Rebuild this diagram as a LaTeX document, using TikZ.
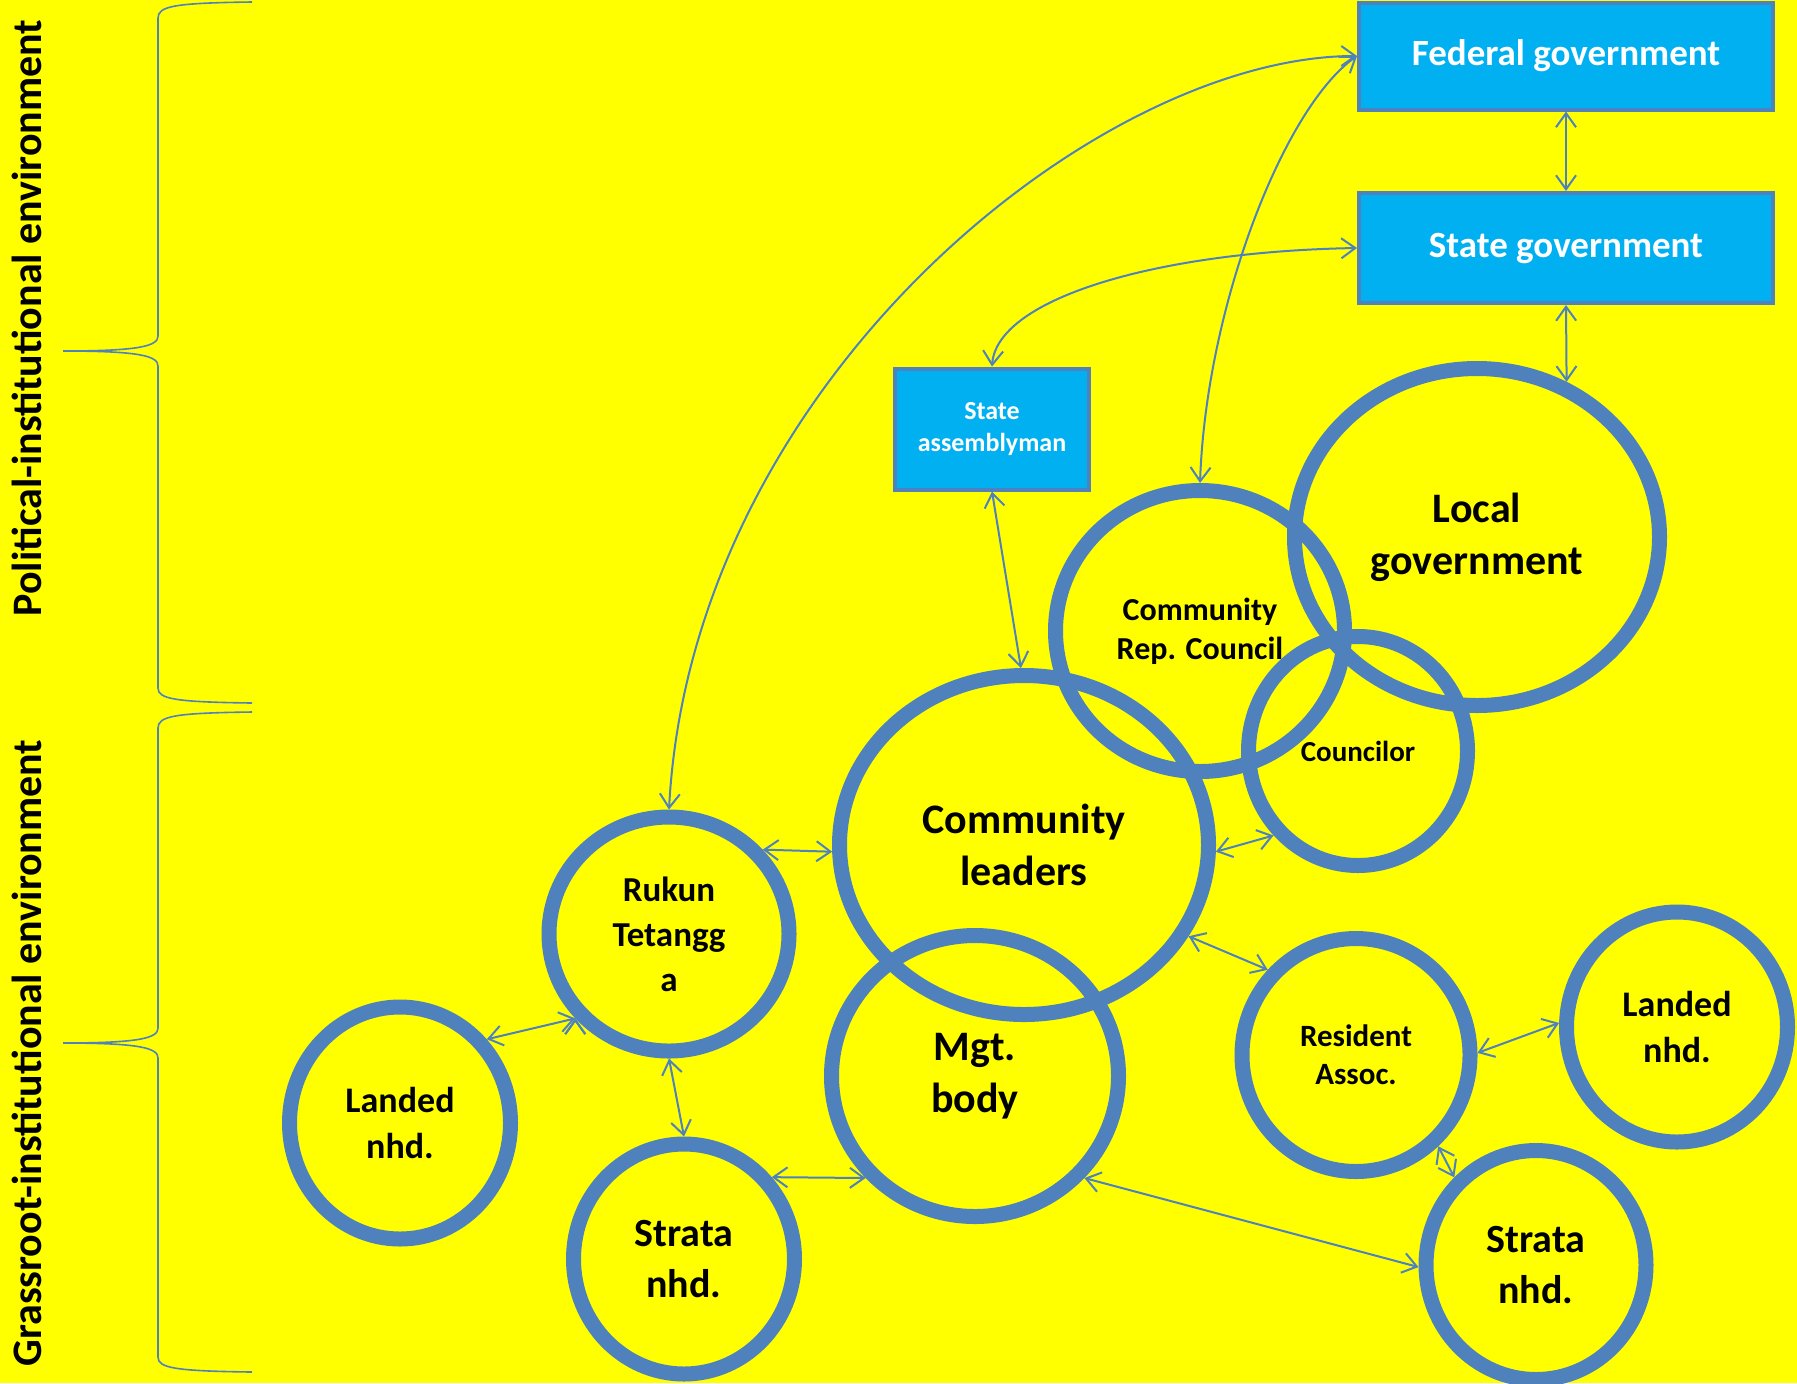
\documentclass[tikz,border=0pt]{standalone}
\usepackage{fontspec}
\setmainfont{Carlito}
\usetikzlibrary{shapes.geometric, arrows.meta}
\definecolor{ringblue}{HTML}{4F81BD}
\definecolor{govblue}{HTML}{00B0F0}
\definecolor{bgyellow}{HTML}{FFFF00}
\newcommand{\sz}[2]{\fontsize{#1}{#2}\selectfont\bfseries}

\begin{document}
\begin{tikzpicture}[x=0.5pt, y=-0.5pt]
        \tikzstyle{ring} = [draw=ringblue, line width=7.5pt, ellipse, inner sep=0pt, align=center, text=black]
        \tikzstyle{govbox} = [draw=ringblue, line width=2pt, fill=govblue, rectangle, inner sep=0pt, align=center, text=white]
        \tikzstyle{pointer} = [{Straight Barb[length=7pt, width=10pt]}-{Straight Barb[length=7pt, width=10pt]}, draw=ringblue, line width=1pt]
        \tikzstyle{brace} = [draw=ringblue, line width=0.8pt]
        \useasboundingbox (0,0) rectangle (1797,1383);
        \fill[bgyellow] (0,0) rectangle (1797,1383);
        % side labels and braces
        \node[rotate=90, inner sep=0pt, font=\sz{21}{25}] (politlabel) at (27,318) {Political-institutional environment};
        \node[rotate=90, inner sep=0pt, font=\sz{21}{25}] (grasslabel) at (27,1053) {Grassroot-institutional environment};
        \draw[brace] (252,2) .. controls (175,3) and (158,6) .. (158,18) -- (158,336)
            .. controls (158,346) and (140,351) .. (63,351) .. controls (140,351) and (158,356) .. (158,366)
            -- (158,688) .. controls (158,699) and (175,702) .. (252,703);
        \draw[brace] (252,712) .. controls (175,713) and (158,716) .. (158,728) -- (158,1028)
            .. controls (158,1038) and (140,1043) .. (63,1043) .. controls (140,1043) and (158,1048) .. (158,1058)
            -- (158,1357) .. controls (158,1368) and (175,1371) .. (252,1372);
        % government boxes
        \node[govbox, minimum width=207pt, minimum height=53.5pt, font=\sz{18.5}{22}] (fed) at (1566,56) {Federal government};
        \node[govbox, minimum width=207pt, minimum height=55pt, font=\sz{18.5}{22}] (stategov) at (1566,248) {State government};
        \node[govbox, minimum width=97pt, minimum height=60.5pt, font=\sz{13}{16}] (assembly) at (992,429) {State\\assemblyman};
        % circles
        \node[ring, minimum width=182.5pt, minimum height=168.5pt, font=\sz{21}{26}] (localgov) at (1477,537) {Local\\government};
        \node[ring, minimum width=109.5pt, minimum height=114.5pt, font=\sz{14.5}{17.5}] (councilor) at (1358,751) {Councilor};
        \node[ring, minimum width=144.5pt, minimum height=140.5pt, font=\sz{16}{19.5}] (crc) at (1200,631) {Community\\Rep. Council};
        \node[ring, minimum width=184.5pt, minimum height=169.5pt, font=\sz{21}{26}] (cl) at (1024,845) {Community\\leaders};
        \node[ring, minimum width=143.5pt, minimum height=140.5pt, font=\sz{21}{26}] (mgt) at (975,1076) {Mgt.\\body};
        \node[ring, minimum width=120pt, minimum height=117pt, font=\sz{17.5}{22.5}] (rukun) at (669,934) {Rukun\\Tetangg\\a};
        \node[ring, minimum width=110.5pt, minimum height=116pt, font=\sz{18}{23}] (landedL) at (400,1123) {Landed\\nhd.};
        \node[ring, minimum width=110.5pt, minimum height=115pt, font=\sz{20}{25.5}] (strataL) at (684,1259) {Strata\\nhd.};
        \node[ring, minimum width=114pt, minimum height=116.5pt, font=\sz{15.5}{19}] (resident) at (1356,1055) {Resident\\Assoc.};
        \node[ring, minimum width=110.5pt, minimum height=115pt, font=\sz{18}{23}] (landedR) at (1677,1027) {Landed\\nhd.};
        \node[ring, minimum width=110pt, minimum height=114.5pt, font=\sz{20}{25.5}] (strataR) at (1536,1265) {Strata\\nhd.};
        \path[pointer]
        (rukun.north) edge[out=87, in=180, out looseness=1.07, in looseness=0.65] (fed.west)
        (crc.north) edge[out=88, in=215, out looseness=1.0, in looseness=0.5] (fed.west)
        (assembly.north) edge[out=86, in=181, out looseness=0.45, in looseness=1.35] (stategov.west)
        (fed.south) edge (stategov.north)
        (stategov.south) edge (localgov.60)
        (assembly.south) edge (cl.91)
        (rukun.42) edge (cl.182)
        (cl.358) edge (councilor.225)
        (cl.331) edge (resident.136)
        (resident.1) edge (landedR.178)
        (resident.312) edge (strataR.133)
        (mgt.317) edge (strataR.181)
        (mgt.223) edge (strataL.43)
        (rukun.270) edge (strataL.90)
        (rukun.222) edge (landedL.44);
\end{tikzpicture}
\end{document}
